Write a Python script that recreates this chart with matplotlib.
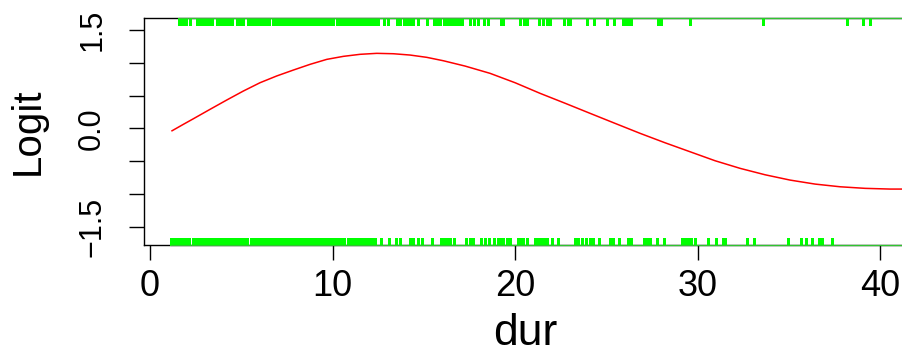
import matplotlib
matplotlib.use("Agg")
import matplotlib.pyplot as plt

plt.rcParams['font.family'] = ['Liberation Sans', 'DejaVu Sans']

# Fitted smooth curve (dur vs logit)
curve_x = [1.205, 1.825, 2.373, 3.288, 4.203, 5.112, 6.027, 6.942, 7.852, 8.767,
           9.682, 10.592, 11.507, 12.422, 13.332, 14.247, 15.162, 16.071, 17.260,
           18.630, 20.000, 21.370, 22.740, 24.110, 25.479, 26.849, 28.219, 29.589,
           30.959, 32.329, 33.699, 35.068, 36.438, 37.808, 39.178, 40.548, 41.205]
curve_y = [-0.037, 0.061, 0.146, 0.290, 0.432, 0.569, 0.696, 0.799, 0.889, 0.976,
           1.052, 1.098, 1.129, 1.144, 1.138, 1.118, 1.083, 1.031, 0.950,
           0.839, 0.696, 0.534, 0.383, 0.229, 0.076, -0.076, -0.220, -0.357,
           -0.494, -0.610, -0.708, -0.789, -0.850, -0.891, -0.915, -0.926, -0.926]

# Rug marks (observations with response 1 on top, 0 at bottom)
rug_top = [1.59, 1.70, 1.86, 1.97, 2.19, 2.58, 2.68, 2.85, 2.96, 3.12, 3.29, 3.40,
           3.67, 3.84, 4.0, 4.16, 4.33, 4.49, 4.77, 4.93, 5.10, 5.37, 5.53, 5.70,
           5.86, 6.03, 6.19, 6.36, 6.52, 6.74, 6.9, 7.07, 7.23, 7.40, 7.56, 7.73,
           7.89, 8.05, 8.22, 8.38, 8.55, 8.71, 8.88, 9.04, 9.21, 9.37, 9.53, 9.70,
           9.86, 10.03, 10.25, 10.41, 10.58, 10.74, 10.9, 11.07, 11.23, 11.4, 11.56,
           11.67, 11.84, 12.0, 12.16, 12.33, 12.49, 12.82, 13.04, 13.53, 13.7, 13.92,
           14.08, 14.25, 14.41, 14.68, 15.18, 15.56, 15.73, 15.89, 16.11, 16.27,
           16.44, 16.6, 16.77, 16.93, 17.1, 17.53, 17.75, 17.97, 18.3, 18.52, 19.23,
           19.34, 20.27, 20.49, 20.66, 21.32, 21.53, 21.75, 21.92, 22.68, 22.9,
           23.01, 23.95, 24.33, 25.04, 25.42, 25.92, 26.08, 26.25, 26.36, 27.84,
           28.0, 29.59, 33.59, 38.19, 39.07, 39.45]
rug_bottom = [1.15, 1.26, 1.37, 1.48, 1.59, 1.70, 1.81, 1.92, 2.03, 2.14, 2.36, 2.47,
              2.58, 2.68, 2.79, 2.9, 3.01, 3.12, 3.23, 3.34, 3.45, 3.56, 3.67, 3.78,
              3.89, 4.0, 4.11, 4.22, 4.33, 4.44, 4.55, 4.66, 4.77, 4.88, 4.99, 5.10,
              5.21, 5.32, 5.53, 5.64, 5.75, 5.86, 5.97, 6.08, 6.19, 6.30, 6.41, 6.52,
              6.63, 6.74, 6.85, 6.96, 7.07, 7.18, 7.29, 7.40, 7.51, 7.62, 7.73, 7.84,
              7.95, 8.05, 8.16, 8.33, 8.49, 8.66, 8.82, 8.99, 9.15, 9.32, 9.48, 9.64,
              9.81, 9.97, 10.14, 10.3, 10.47, 10.63, 10.85, 11.01, 11.18, 11.34, 11.51,
              11.67, 11.84, 12.0, 12.16, 12.33, 12.66, 13.1, 13.48, 13.7, 14.25, 14.41,
              14.68, 14.9, 15.45, 15.95, 16.11, 16.27, 16.44, 16.66, 17.32, 17.53, 17.7,
              18.14, 18.36, 18.58, 18.85, 19.07, 19.18, 19.34, 19.56, 19.73, 20.16,
              20.33, 20.44, 20.66, 21.1, 21.26, 21.42, 21.59, 21.75, 22.03, 22.36,
              23.29, 23.45, 23.67, 23.89, 24.11, 24.27, 24.6, 25.21, 25.37, 25.7,
              26.19, 26.36, 27.07, 27.23, 27.4, 27.78, 28.16, 29.15, 29.32, 29.48,
              29.64, 29.86, 30.58, 31.01, 31.4, 31.51, 32.71, 33.1, 34.96, 35.67,
              35.95, 36.27, 36.66, 36.82, 37.37]

xticks = [0, 10, 20, 30, 40]
yticks = [-1.5, -1.0, -0.5, 0.0, 0.5, 1.0, 1.5]
ytick_labels = ['\u22121.5', '', '', '0.0', '', '', '1.5']

W, H = 902, 354
fig = plt.figure(figsize=(W / 100, H / 100), dpi=100)
ax = fig.add_axes([144 / W, 1 - 245 / H, (W - 144) / W, 227 / H])

ax.plot(curve_x, curve_y, color='#ff0000', lw=1.1)

xmin, xmax = -0.33, 41.2
ax.set_xlim(xmin, xmax)
ax.set_ylim(-1.779, 1.683)

trans = ax.get_xaxis_transform()
rl = 7 / 227
ax.vlines(rug_top, 1 - rl, 1, transform=trans, color='#00ff00', lw=0.75,
          antialiased=False, clip_on=False, zorder=3)
ax.vlines(rug_bottom, 0, rl, transform=trans, color='#00ff00', lw=0.75,
          antialiased=False, clip_on=False, zorder=3)
ax.plot([min(rug_top), xmax], [1, 1], transform=trans, color='#2fc42f', lw=0.9,
        clip_on=False, zorder=4)
ax.plot([min(rug_bottom), xmax], [0, 0], transform=trans, color='#2fc42f', lw=0.9,
        clip_on=False, zorder=4)

for s in ['left', 'bottom', 'top']:
    ax.spines[s].set_linewidth(1.0)
    ax.spines[s].set_color('black')
ax.spines['right'].set_visible(False)

ax.set_xticks(xticks)
ax.set_xticklabels([str(v) for v in xticks])
ax.set_yticks(yticks)
ax.set_yticklabels(ytick_labels)
ax.tick_params(axis='x', length=10.5, width=1.0, pad=7, labelsize=26)
ax.tick_params(axis='y', length=10.5, width=1.0, pad=16, labelsize=22)
for lab in ax.get_yticklabels():
    lab.set_rotation(90)
    lab.set_verticalalignment('center')
    lab.set_horizontalalignment('right')

fig.text(28 / W, 1 - 131 / H, 'Logit', rotation=90, ha='center', va='center', fontsize=29)
fig.text(525 / W, 1 - 345 / H, 'dur', ha='center', va='baseline', fontsize=32)

fig.savefig('out.png', dpi=100)
